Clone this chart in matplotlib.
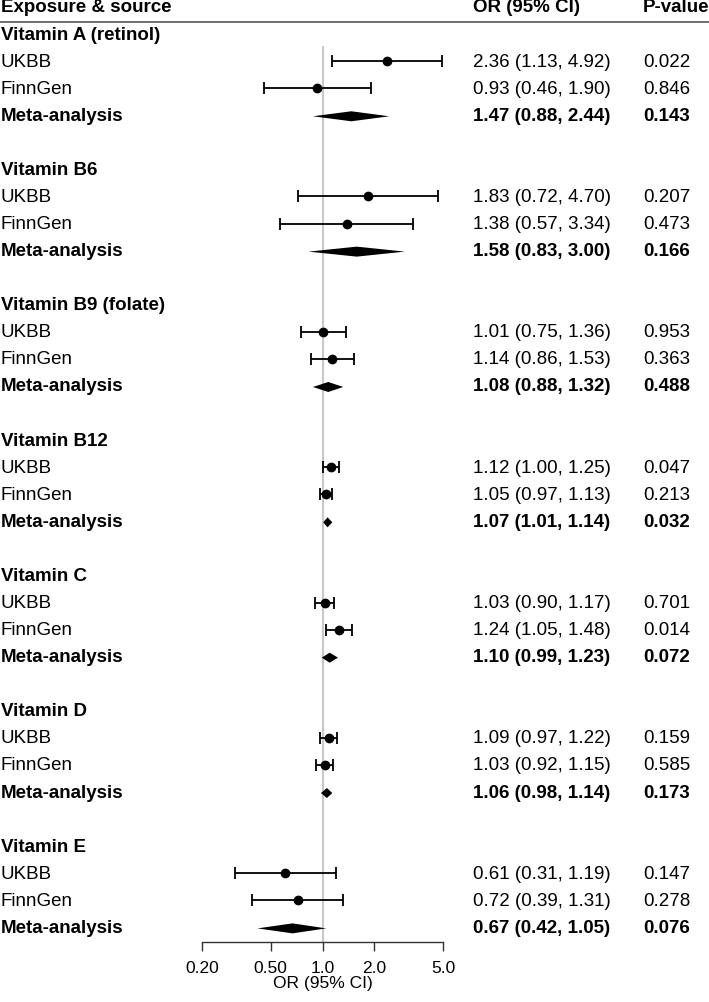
import matplotlib.pyplot as plt
from matplotlib.transforms import blended_transform_factory
from matplotlib.ticker import FixedLocator, NullLocator

plt.rcParams["font.family"] = ["Liberation Sans", "DejaVu Sans"]

exposures = ["Vitamin A (retinol)", "Vitamin B6", "Vitamin B9 (folate)", "Vitamin B12",
             "Vitamin C", "Vitamin D", "Vitamin E"]
sources = ["UKBB", "FinnGen", "Meta-analysis"]

# OR, lower CI, upper CI, p-value per exposure: [UKBB, FinnGen, Meta]
or_est = [[2.36, 0.93, 1.47], [1.83, 1.38, 1.58], [1.01, 1.14, 1.08], [1.12, 1.05, 1.07],
          [1.03, 1.24, 1.10], [1.09, 1.03, 1.06], [0.61, 0.72, 0.67]]
ci_lo = [[1.13, 0.46, 0.88], [0.72, 0.57, 0.83], [0.75, 0.86, 0.88], [1.00, 0.97, 1.01],
         [0.90, 1.05, 0.99], [0.97, 0.92, 0.98], [0.31, 0.39, 0.42]]
ci_hi = [[4.92, 1.90, 2.44], [4.70, 3.34, 3.00], [1.36, 1.53, 1.32], [1.25, 1.13, 1.14],
         [1.17, 1.48, 1.23], [1.22, 1.15, 1.14], [1.19, 1.31, 1.05]]
p_vals = [["0.022", "0.846", "0.143"], ["0.207", "0.473", "0.166"], ["0.953", "0.363", "0.488"],
          ["0.047", "0.213", "0.032"], ["0.701", "0.014", "0.072"], ["0.159", "0.585", "0.173"],
          ["0.147", "0.278", "0.076"]]

x_ticks = [0.2, 0.5, 1.0, 2.0, 5.0]
x_tick_labels = ["0.20", "0.50", "1.0", "2.0", "5.0"]

W, H = 709, 1002
fig = plt.figure(figsize=(W / 100, H / 100), dpi=100)
axis_y = 942
ax = fig.add_axes([202 / W, (H - axis_y) / H, (443 - 202) / W, axis_y / H])
ax.set_xscale("log")
ax.set_xlim(0.2, 5.0)
ax.set_ylim(axis_y, 0)
for s in ["top", "right", "left"]:
    ax.spines[s].set_visible(False)
ax.spines["bottom"].set_color("#333333")
ax.spines["bottom"].set_linewidth(1.0)
ax.yaxis.set_major_locator(NullLocator())
ax.xaxis.set_major_locator(FixedLocator(x_ticks))
ax.xaxis.set_minor_locator(NullLocator())
tick_fs = 12.5
ax.set_xticklabels(x_tick_labels, fontsize=tick_fs)
ax.tick_params(axis="x", length=6.5, width=1.0, color="#333333", pad=7)
ax.set_xlabel("OR (95% CI)", fontsize=tick_fs, labelpad=0)
ax.patch.set_alpha(0)

fs = 13.5
tr = blended_transform_factory(fig.transFigure, ax.transData)
col_label, col_or, col_p = 1 / W, 473 / W, 643 / W

row_h = 27.07
y_top = 8.0

ax.text(col_label, y_top, "Exposure & source", transform=tr, fontsize=fs, fontweight="bold",
        va="center", ha="left", clip_on=False)
ax.text(col_or, y_top, "OR (95% CI)", transform=tr, fontsize=fs, fontweight="bold",
        va="center", ha="left", clip_on=False)
ax.text(col_p, y_top, "P-value", transform=tr, fontsize=fs, fontweight="bold",
        va="center", ha="left", clip_on=False)
ax.plot([0, 1], [21.5, 21.5], transform=tr, color="#555555", lw=1.2, clip_on=False)

# reference line at OR = 1
ax.plot([1.0, 1.0], [47, axis_y], color="#c8c8c8", lw=1.5, zorder=0)

half_h = 5.0
for i, name in enumerate(exposures):
    k0 = 1 + 5 * i
    y0 = y_top + k0 * row_h
    ax.text(col_label, y0, name, transform=tr, fontsize=fs, fontweight="bold",
            va="center", ha="left", clip_on=False)
    for j, src in enumerate(sources):
        y = y_top + (k0 + 1 + j) * row_h
        est, lo, hi = or_est[i][j], ci_lo[i][j], ci_hi[i][j]
        bold = "bold" if j == 2 else "normal"
        ax.text(col_label, y, src, transform=tr, fontsize=fs, fontweight=bold,
                va="center", ha="left", clip_on=False)
        ax.text(col_or, y, f"{est:.2f} ({lo:.2f}, {hi:.2f})", transform=tr, fontsize=fs,
                fontweight=bold, va="center", ha="left", clip_on=False)
        ax.text(col_p, y, p_vals[i][j], transform=tr, fontsize=fs, fontweight=bold,
                va="center", ha="left", clip_on=False)
        if j < 2:
            ax.errorbar([est], [y - 1], xerr=[[est - lo], [hi - est]], fmt="o", color="black",
                        ms=6.0, capsize=4.3, elinewidth=1.3, capthick=1.3, clip_on=False)
        else:
            ax.fill([lo, est, hi, est], [y, y - half_h, y, y + half_h], color="black",
                    lw=0, clip_on=False)

fig.savefig("out.png", dpi=100)
